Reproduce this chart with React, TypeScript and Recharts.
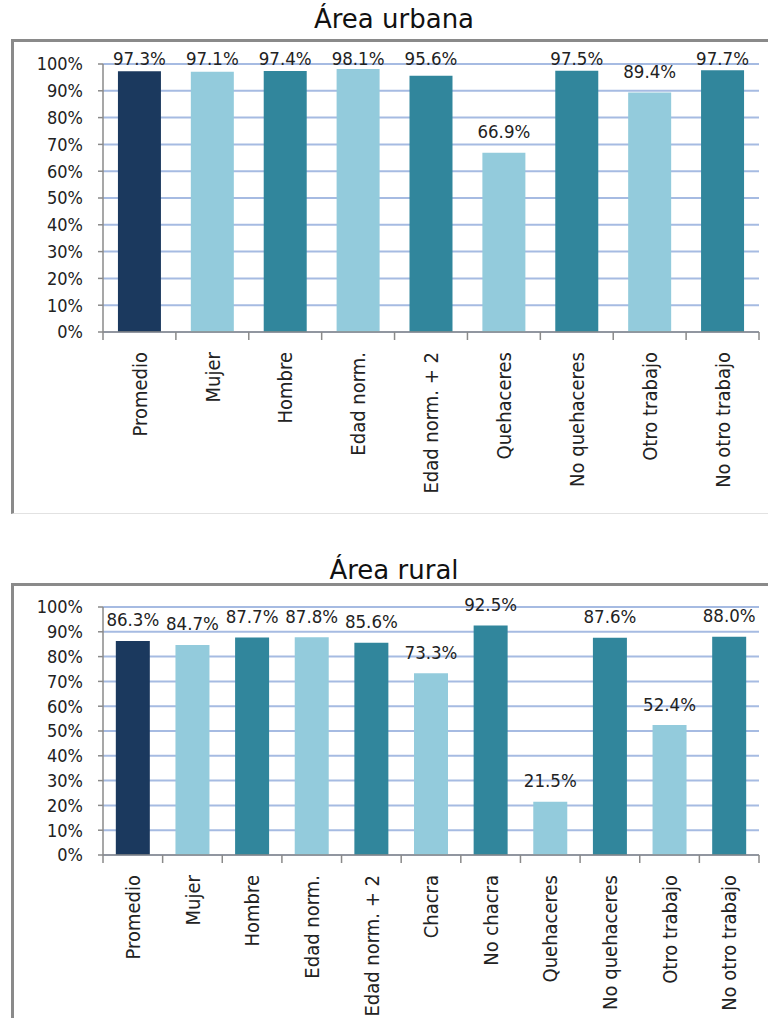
import React from 'react';
import { BarChart, Bar, XAxis, YAxis, CartesianGrid, LabelList, Cell } from 'recharts';

// Área urbana
const urbanCategories = ['Promedio', 'Mujer', 'Hombre', 'Edad norm.', 'Edad norm. + 2', 'Quehaceres', 'No quehaceres', 'Otro trabajo', 'No otro trabajo'];
const urbanValues = [97.3, 97.1, 97.4, 98.1, 95.6, 66.9, 97.5, 89.4, 97.7];

// Área rural
const ruralCategories = ['Promedio', 'Mujer', 'Hombre', 'Edad norm.', 'Edad norm. + 2', 'Chacra', 'No chacra', 'Quehaceres', 'No quehaceres', 'Otro trabajo', 'No otro trabajo'];
const ruralValues = [86.3, 84.7, 87.7, 87.8, 85.6, 73.3, 92.5, 21.5, 87.6, 52.4, 88.0];

const yTicks = [0, 10, 20, 30, 40, 50, 60, 70, 80, 90, 100];

const NAVY = '#1b395e';
const LIGHT = '#93cbdc';
const TEAL = '#31869c';
const GRID = '#a6bbe2';
const AXIS = '#8a8a8a';
const FONT = "'DejaVu Sans Condensed', 'DejaVu Sans', sans-serif";

const barColor = (i: number) => (i === 0 ? NAVY : i % 2 === 1 ? LIGHT : TEAL);

const CHART_W = 768;
const PLOT_LEFT = 103;
const PLOT_RIGHT = 759;

interface PanelProps {
  title: string;
  categories: string[];
  values: number[];
  top: number;
  height: number;
  frameTop: number;
  frameHeight: number;
  titleBaseline: number;
  plotTop: number;
  plotHeight: number;
  xAxisHeight: number;
  gap: string;
  labelMinY: number;
}

const Panel: React.FC<PanelProps> = (p) => {
  const data = p.categories.map((name, i) => ({ name, value: p.values[i] }));
  const band = (PLOT_RIGHT - PLOT_LEFT) / p.categories.length;

  const CategoryTick = (props: any) => {
    const { x, y, payload, index } = props;
    const last = index === p.categories.length - 1;
    return (
      <g>
        <line x1={x - band / 2} y1={y} x2={x - band / 2} y2={y + 8} stroke={AXIS} strokeWidth={1.5} />
        {last && <line x1={x + band / 2} y1={y} x2={x + band / 2} y2={y + 8} stroke={AXIS} strokeWidth={1.5} />}
        <text
          x={x}
          y={y + 20}
          transform={`rotate(-90, ${x}, ${y + 20})`}
          textAnchor="end"
          dy="0.36em"
          fontSize={20}
          fontFamily={FONT}
          fill="#222"
        >
          {payload.value}
        </text>
      </g>
    );
  };

  const renderLabel = (props: any) => {
    const { x, y, width, value } = props;
    return (
      <text
        x={Number(x) + Number(width) / 2}
        y={Math.max(Number(y) - 21, p.labelMinY)}
        textAnchor="middle"
        dominantBaseline="central"
        fontSize={18.5}
        fontFamily={FONT}
        fill="#222"
      >
        {Number(value).toFixed(1)}%
      </text>
    );
  };

  return (
    <div style={{ position: 'absolute', left: 0, top: p.top, width: CHART_W, height: p.height }}>
      <div
        style={{
          position: 'absolute',
          left: 0,
          width: CHART_W,
          top: p.titleBaseline - p.top - 22,
          textAlign: 'center',
          paddingLeft: 20,
          boxSizing: 'border-box',
          fontFamily: "'DejaVu Sans', sans-serif",
          fontSize: 26,
          lineHeight: '28px',
          color: '#111',
        }}
      >
        {p.title}
      </div>
      <div
        style={{
          position: 'absolute',
          left: 11,
          top: p.frameTop - p.top,
          width: CHART_W - 11,
          height: p.frameHeight,
          borderTop: '3px solid #8a8a8a',
          borderLeft: '3px solid #8a8a8a',
          borderBottom: '1px solid #e2e2e2',
          boxSizing: 'border-box',
        }}
      />
      <div style={{ position: 'absolute', left: 0, top: 0 }}>
        <BarChart
          width={CHART_W}
          height={p.height}
          data={data}
          barCategoryGap={p.gap}
          margin={{ top: p.plotTop, right: CHART_W - PLOT_RIGHT, left: PLOT_LEFT - 90, bottom: p.height - p.plotTop - p.plotHeight - p.xAxisHeight }}
        >
          <CartesianGrid horizontal vertical={false} stroke={GRID} strokeWidth={2} />
          <XAxis
            dataKey="name"
            interval={0}
            height={p.xAxisHeight}
            axisLine={{ stroke: AXIS, strokeWidth: 1.5 }}
            tickLine={false}
            tickSize={0}
            tickMargin={0}
            tick={<CategoryTick />}
          />
          <YAxis
            width={90}
            domain={[0, 100]}
            ticks={yTicks}
            interval={0}
            tickFormatter={(v: number) => `${v}%`}
            axisLine={{ stroke: AXIS, strokeWidth: 1.5 }}
            tickLine={{ stroke: AXIS, strokeWidth: 1.5 }}
            tickSize={5}
            tickMargin={15}
            tick={{ fontSize: 18, fontFamily: FONT, fill: '#222' }}
          />
          <Bar dataKey="value" isAnimationActive={false}>
            {data.map((_, i) => (
              <Cell key={`c-${i}`} fill={barColor(i)} />
            ))}
            <LabelList dataKey="value" content={renderLabel} />
          </Bar>
        </BarChart>
      </div>
    </div>
  );
}

export default function App() {
  return (
    <div style={{ position: 'absolute', left: 0, top: 0, width: 768, height: 1018, background: '#fff', overflow: 'hidden' }}>
      <Panel
        title="Área urbana"
        categories={urbanCategories}
        values={urbanValues}
        top={0}
        height={520}
        frameTop={39}
        frameHeight={475}
        titleBaseline={27}
        plotTop={64}
        plotHeight={268}
        xAxisHeight={180}
        gap="20.5%"
        labelMinY={58}
      />
      <Panel
        title="Área rural"
        categories={ruralCategories}
        values={ruralValues}
        top={540}
        height={478}
        frameTop={583}
        frameHeight={460}
        titleBaseline={578}
        plotTop={67}
        plotHeight={248}
        xAxisHeight={155}
        gap="21.5%"
        labelMinY={0}
      />
    </div>
  );
}
